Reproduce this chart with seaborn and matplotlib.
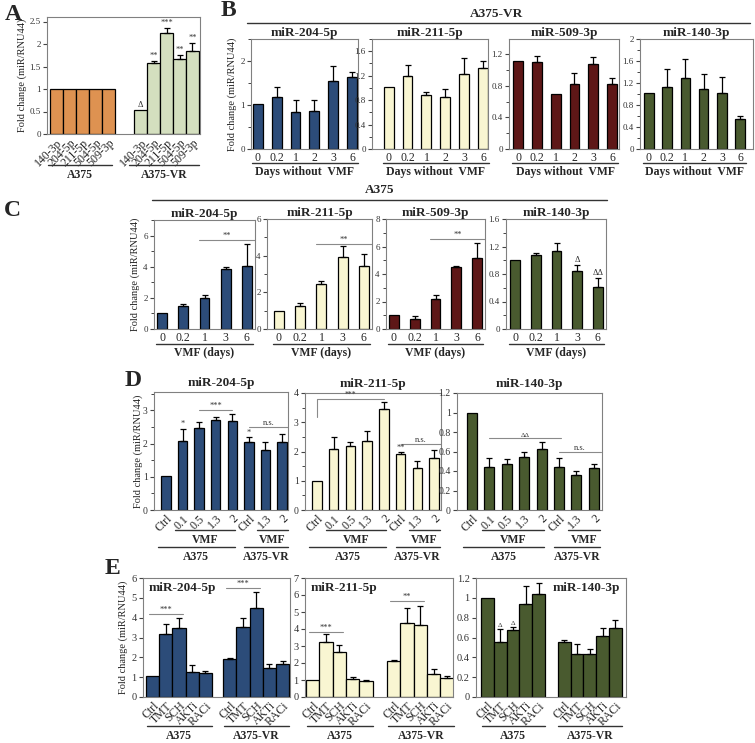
import numpy as np
import pandas as pd
import matplotlib
matplotlib.use('Agg')
import matplotlib.pyplot as plt
import seaborn as sns
from matplotlib.lines import Line2D
from matplotlib.ticker import MultipleLocator, FuncFormatter

W, H = 755, 743

NAVY = '#1f4a86'
CREAM = '#fffccc'
MAROON = '#6a0b0b'
OLIVE = '#4a6128'
ORANGE = '#f5903a'
SAGE = '#d6e4ba'

# ---- panel A: A375 vs A375-VR baseline
a_labels = ['140-3p', '204-5p', '211-5p', '504-5p', '509-3p']
a_a375 = [1.0, 1.0, 1.0, 1.0, 1.0]
a_vr = [0.54, 1.58, 2.24, 1.66, 1.84]
a_vr_err = [0.0, 0.05, 0.11, 0.10, 0.18]
a_sig = ['Δ', '**', '***', '**', '**']

# ---- panel B: days without VMF (A375-VR)
b_days = ['0', '0.2', '1', '2', '3', '6']
b204 = [1.02, 1.19, 0.83, 0.87, 1.55, 1.64]
b204_err = [0.0, 0.22, 0.28, 0.24, 0.34, 0.10]
b211 = [1.02, 1.20, 0.88, 0.85, 1.23, 1.32]
b211_err = [0.0, 0.18, 0.06, 0.14, 0.26, 0.12]
b509 = [1.11, 1.10, 0.70, 0.82, 1.075, 0.82]
b509_err = [0.0, 0.07, 0.0, 0.14, 0.09, 0.08]
b140 = [1.01, 1.12, 1.30, 1.10, 1.01, 0.55]
b140_err = [0.0, 0.33, 0.33, 0.26, 0.30, 0.05]

# ---- panel C: VMF (days) in A375
c_days = ['0', '0.2', '1', '3', '6']
c204 = [1.04, 1.45, 2.02, 3.87, 4.02]
c204_err = [0.0, 0.15, 0.15, 0.11, 1.45]
c211 = [0.97, 1.28, 2.47, 3.93, 3.44]
c211_err = [0.0, 0.15, 0.13, 0.59, 0.64]
c509 = [1.04, 0.72, 2.20, 4.49, 5.14]
c509_err = [0.0, 0.25, 0.24, 0.10, 1.09]
c140 = [1.0, 1.08, 1.14, 0.85, 0.61]
c140_err = [0.0, 0.02, 0.11, 0.08, 0.13]
c140_sig = ['', '', '', 'Δ', 'ΔΔ']

# ---- panel D: VMF dose
d_labels = ['Ctrl', '0.1', '0.5', '1.3', '2', 'Ctrl', '1.3', '2']
d204 = [1.02, 2.07, 2.47, 2.71, 2.67, 2.05, 1.81, 2.04]
d204_err = [0.0, 0.37, 0.17, 0.09, 0.23, 0.14, 0.23, 0.25]
d211 = [1.0, 2.10, 2.18, 2.36, 3.45, 1.90, 1.43, 1.79]
d211_err = [0.0, 0.39, 0.15, 0.34, 0.25, 0.07, 0.23, 0.25]
d140 = [1.0, 0.44, 0.47, 0.54, 0.63, 0.44, 0.36, 0.43]
d140_err = [0.0, 0.09, 0.05, 0.06, 0.07, 0.09, 0.04, 0.04]

# ---- panel E: inhibitors
e_labels = ['Ctrl', 'TMT', 'SCH', 'AKTi', 'RACi']
e204_a375 = [1.04, 3.20, 3.48, 1.26, 1.21]
e204_a375_err = [0.0, 0.50, 0.51, 0.34, 0.12]
e204_vr = [1.94, 3.54, 4.50, 1.46, 1.68]
e204_vr_err = [0.04, 0.45, 0.80, 0.22, 0.12]
e211_a375 = [1.0, 3.25, 2.63, 1.05, 0.95]
e211_a375_err = [0.0, 0.48, 0.40, 0.10, 0.05]
e211_vr = [2.14, 4.38, 4.26, 1.35, 1.11]
e211_vr_err = [0.04, 0.87, 1.11, 0.29, 0.10]
e140_a375 = [1.0, 0.55, 0.68, 0.94, 1.04]
e140_a375_err = [0.0, 0.14, 0.03, 0.18, 0.11]
e140_vr = [0.55, 0.43, 0.43, 0.62, 0.70]
e140_vr_err = [0.02, 0.10, 0.05, 0.08, 0.08]

sns.set_theme(style='white')
plt.rcParams['font.family'] = ['Liberation Serif', 'DejaVu Serif']

fig = plt.figure(figsize=(W / 100, H / 100), dpi=100)


def make_ax(box):
    x0, y0, x1, y1 = box
    ax = fig.add_axes([x0 / W, 1 - y1 / H, (x1 - x0) / W, (y1 - y0) / H])
    ax._box = box
    return ax


def ypx(ax, Y):
    # image pixel row -> axes fraction
    t, b = ax._box[1], ax._box[3]
    return (b - Y) / (b - t)


def draw_bars(ax, pos, vals, errs, colors, width):
    if isinstance(colors, str):
        colors = [colors] * len(pos)
    df = pd.DataFrame({'pos': pos, 'val': vals,
                       'bar': [f'b{i}' for i in range(len(pos))]})
    sns.barplot(data=df, x='pos', y='val', hue='bar', palette=colors,
                native_scale=True, dodge=False, width=width,
                edgecolor='black', linewidth=0.9, legend=False,
                errorbar=None, ax=ax)
    p, v, e = np.asarray(pos, float), np.asarray(vals), np.asarray(errs)
    m = e > 0
    ax.errorbar(p[m], v[m], yerr=[np.zeros(m.sum()), e[m]], fmt='none',
                ecolor='black', elinewidth=0.9, capsize=2, capthick=0.9)
    ax.set_xlabel('')
    ax.set_ylabel('')


def style_ax(ax, top, major, minor=None, xlim=None, ysize=6.5):
    ax.set_ylim(0, top)
    if xlim:
        ax.set_xlim(*xlim)
    ax.yaxis.set_major_locator(MultipleLocator(major))
    if minor:
        ax.yaxis.set_minor_locator(MultipleLocator(minor))
    ax.yaxis.set_major_formatter(FuncFormatter(lambda v, _: f'{round(v, 2):g}'))
    ax.tick_params(axis='y', which='major', left=True, direction='out',
                   length=3, width=0.8, labelsize=ysize, pad=1.5, color='#444444',
                   labelcolor='#333333')
    ax.tick_params(axis='y', which='minor', left=True, direction='out',
                   length=2, width=0.7, color='#444444')
    ax.tick_params(axis='x', length=0, pad=2)
    for s in ax.spines.values():
        s.set_color('#808080')
        s.set_linewidth(0.8)
    ax.grid(False)


def set_xlabels(ax, pos, labels, size=8, rotate=False):
    ax.set_xticks(pos)
    if rotate:
        ax.set_xticklabels(labels, rotation=45, ha='right', rotation_mode='anchor',
                           fontsize=size)
    else:
        ax.set_xticklabels(labels, fontsize=size)


def under_line(ax, x0, x1, Y, text=None, Yt=None, size=8.5):
    tr = ax.get_xaxis_transform()
    yy = ypx(ax, Y)
    ax.plot([x0, x1], [yy, yy], transform=tr, color='#333333', lw=1.0, clip_on=False)
    if text:
        ax.text((x0 + x1) / 2, ypx(ax, Yt), text, transform=tr, ha='center',
                va='center', fontsize=size, fontweight='bold', clip_on=False)


def sig_line(ax, x0, x1, y, text, size=6):
    ax.plot([x0, x1], [y, y], color='#8a8a8a', lw=0.8, clip_on=False)
    ax.text((x0 + x1) / 2, y, text, ha='center', va='bottom', fontsize=size,
            color='#333333')


def sig_marks(ax, pos, vals, errs, marks, off, size=6):
    for p, v, e, mk in zip(pos, vals, errs, marks):
        if mk:
            ax.text(p, v + e + off, mk, ha='center', va='bottom', fontsize=size,
                    color='#333333')


def ylab(X, Y):
    fig.text(X / W, 1 - Y / H, 'Fold change (miR/RNU44)', rotation=90,
             ha='center', va='center', fontsize=7.5, color='#222222')


def letter(X, Y, s):
    fig.text(X / W, 1 - Y / H, s, ha='center', va='center', fontsize=17,
             fontweight='bold')


def fig_line(x0, x1, Y):
    fig.add_artist(Line2D([x0 / W, x1 / W], [1 - Y / H, 1 - Y / H],
                          color='#333333', lw=1.0))


# ================= Panel A
ax = make_ax((47, 17, 200, 134))
a_pos = [0, 1, 2, 3, 4, 6.5, 7.5, 8.5, 9.5, 10.5]
draw_bars(ax, a_pos, a_a375 + a_vr, [0] * 5 + a_vr_err,
          [ORANGE] * 5 + [SAGE] * 5, 1.0)
style_ax(ax, 2.6, 0.5, xlim=(-0.73, 11.08))
set_xlabels(ax, a_pos, a_labels + a_labels, size=8.5, rotate=True)
sig_marks(ax, a_pos[5:], a_vr, a_vr_err, a_sig, 0.02)
under_line(ax, -0.65, 4.3, 165, 'A375', 175)
under_line(ax, 5.6, 11.0, 165, 'A375-VR', 175)
ylab(22, 75)
letter(13, 15, 'A')

# ================= Panel B
letter(228, 11, 'B')
fig.text(497 / W, 1 - 14 / H, 'A375-VR', ha='center', va='center',
         fontsize=9.5, fontweight='bold')
fig_line(247, 750, 23)

b_pos = list(range(6))
b_specs = [
    ((251, 39, 358, 149), 'miR-204-5p', b204, b204_err, NAVY, 2.5, 1, 0.5, (-0.37, 5.32)),
    ((372, 39, 488, 149), 'miR-211-5p', b211, b211_err, CREAM, 1.8, 0.4, 0.2, (-0.88, 5.26)),
    ((509, 39, 619, 149), 'miR-509-3p', b509, b509_err, MAROON, 1.39, 0.4, 0.2, (-0.48, 5.37)),
    ((640, 39, 753, 149), 'miR-140-3p', b140, b140_err, OLIVE, 2.0, 0.4, 0.2, (-0.48, 5.7)),
]
for box, title, vals, errs, col, top, maj, mnr, xl in b_specs:
    ax = make_ax(box)
    draw_bars(ax, b_pos, vals, errs, col, 0.52)
    style_ax(ax, top, maj, mnr, xlim=xl)
    set_xlabels(ax, b_pos, b_days, size=8.5)
    ax.set_title(title, fontsize=9.5, fontweight='bold', pad=2.5)
    under_line(ax, -0.3, 5.3, 163, 'Days without  VMF', 172)
ylab(232, 94)

# ================= Panel C
letter(12, 210, 'C')
fig.text(380 / W, 1 - 190 / H, 'A375', ha='center', va='center',
         fontsize=9.5, fontweight='bold')
fig_line(152, 607, 200)

c_pos = list(range(5))
c_specs = [
    ((154, 220, 255, 329), 'miR-204-5p', c204, c204_err, NAVY, 7, 2, 1, (-0.38, 4.38), 5.72),
    ((267, 219, 372, 329), 'miR-211-5p', c211, c211_err, CREAM, 6, 2, 1, (-0.56, 4.38), 4.66),
    ((386, 219, 485, 329), 'miR-509-3p', c509, c509_err, MAROON, 8, 2, 1, (-0.38, 4.38), 6.52),
    ((506, 219, 606, 329), 'miR-140-3p', c140, c140_err, OLIVE, 1.6, 0.4, 0.2, (-0.44, 4.39), None),
]
for box, title, vals, errs, col, top, maj, mnr, xl, sy in c_specs:
    ax = make_ax(box)
    draw_bars(ax, c_pos, vals, errs, col, 0.47)
    style_ax(ax, top, maj, mnr, xlim=xl)
    set_xlabels(ax, c_pos, c_days, size=8.5)
    ax.set_title(title, fontsize=9.5, fontweight='bold', pad=2.5)
    under_line(ax, -0.3, 4.3, 344, 'VMF (days)', 353)
    if sy is not None:
        sig_line(ax, 1.75, xl[1], sy, '**')
    else:
        sig_marks(ax, c_pos, vals, errs, c140_sig, 0.02)
ylab(135, 274)

# ================= Panel D
letter(133, 380, 'D')
d_pos = list(range(8))
d_specs = [
    ((154, 392, 288, 510), 'miR-204-5p', d204, d204_err, NAVY, 3.55, 1, 0.5, (-0.72, 7.36)),
    ((305, 393, 441, 510), 'miR-211-5p', d211, d211_err, CREAM, 4, 1, 0.5, (-0.72, 7.42)),
    ((457, 393, 602, 510), 'miR-140-3p', d140, d140_err, OLIVE, 1.2, 0.2, None, (-0.86, 7.47)),
]
for i, (box, title, vals, errs, col, top, maj, mnr, xl) in enumerate(d_specs):
    ax = make_ax(box)
    draw_bars(ax, d_pos, vals, errs, col, 0.57)
    style_ax(ax, top, maj, mnr, xlim=xl, ysize=7)
    set_xlabels(ax, d_pos, d_labels, size=8.5, rotate=True)
    ax.set_title(title, fontsize=9.5, fontweight='bold', pad=4)
    under_line(ax, 0.55, 4.15, 530, 'VMF', 540)
    under_line(ax, 5.5, 7.35, 530, 'VMF', 540)
    under_line(ax, -0.5, 4.15, 547, 'A375', 557)
    under_line(ax, 4.7, 7.35, 547, 'A375-VR', 557)
    if i == 0:
        sig_marks(ax, [1, 5], [vals[1], vals[5]], [errs[1], errs[5]], ['*', '*'], 0.02)
        sig_line(ax, 2, 4, 3.02, '***')
        sig_line(ax, 5, 7.35, 2.5, 'n.s.')
    elif i == 1:
        ax.plot([0, 0, 4], [3.17, 3.8, 3.8], color='#8a8a8a', lw=0.8)
        ax.text(2, 3.8, '***', ha='center', va='bottom', fontsize=5.5, color='#333333')
        sig_marks(ax, [5], [vals[5]], [errs[5]], ['**'], 0.02)
        sig_line(ax, 5, 7.4, 2.27, 'n.s.')
    else:
        sig_line(ax, 1, 5.1, 0.74, 'ΔΔ', size=5)
        sig_line(ax, 5, 7.4, 0.6, 'n.s.')
ylab(138, 451)

# ================= Panel E
letter(112, 569, 'E')
e_specs = [
    ((143, 578, 290, 697), 'miR-204-5p', e204_a375 + e204_vr, e204_a375_err + e204_vr_err,
     NAVY, 6, 1, 5.85, (-0.73, 10.41), 'left'),
    ((305, 578, 453, 697), 'miR-211-5p', e211_a375 + e211_vr, e211_a375_err + e211_vr_err,
     CREAM, 7, 1, 6.1, (-0.58, 10.55), 'left'),
    ((476, 578, 626, 697), 'miR-140-3p', e140_a375 + e140_vr, e140_a375_err + e140_vr_err,
     OLIVE, 1.2, 0.2, 6.0, (-0.89, 10.83), 'right'),
]
for i, (box, title, vals, errs, col, top, maj, shift, xl, tloc) in enumerate(e_specs):
    ax = make_ax(box)
    e_pos = [0, 1, 2, 3, 4] + [shift + k for k in range(5)]
    draw_bars(ax, e_pos, vals, errs, col, 1.0)
    style_ax(ax, top, maj, xlim=xl, ysize=7.5)
    set_xlabels(ax, e_pos, e_labels + e_labels, size=8.5, rotate=True)
    if tloc == 'left':
        ax.text(0.04, 0.97, title, transform=ax.transAxes, ha='left', va='top',
                fontsize=9.5, fontweight='bold')
    else:
        ax.text(0.96, 0.97, title, transform=ax.transAxes, ha='right', va='top',
                fontsize=9.5, fontweight='bold')
    under_line(ax, -0.45, 4.5, 726, 'A375', 736)
    under_line(ax, shift - 0.45, shift + 4.5, 726, 'A375-VR', 736)
    if i == 0:
        sig_line(ax, -0.3, 2.3, 4.19, '***')
        sig_line(ax, shift - 0.3, shift + 2.3, 5.5, '***')
    elif i == 1:
        sig_line(ax, -0.3, 2.3, 3.85, '***')
        sig_line(ax, shift - 0.3, shift + 2.3, 5.66, '**')
    else:
        sig_marks(ax, [1, 2], [vals[1], vals[2]], [errs[1], errs[2]], ['Δ', 'Δ'], 0.01, size=5)
ylab(123, 637)

fig.savefig('out.png', dpi=100)
